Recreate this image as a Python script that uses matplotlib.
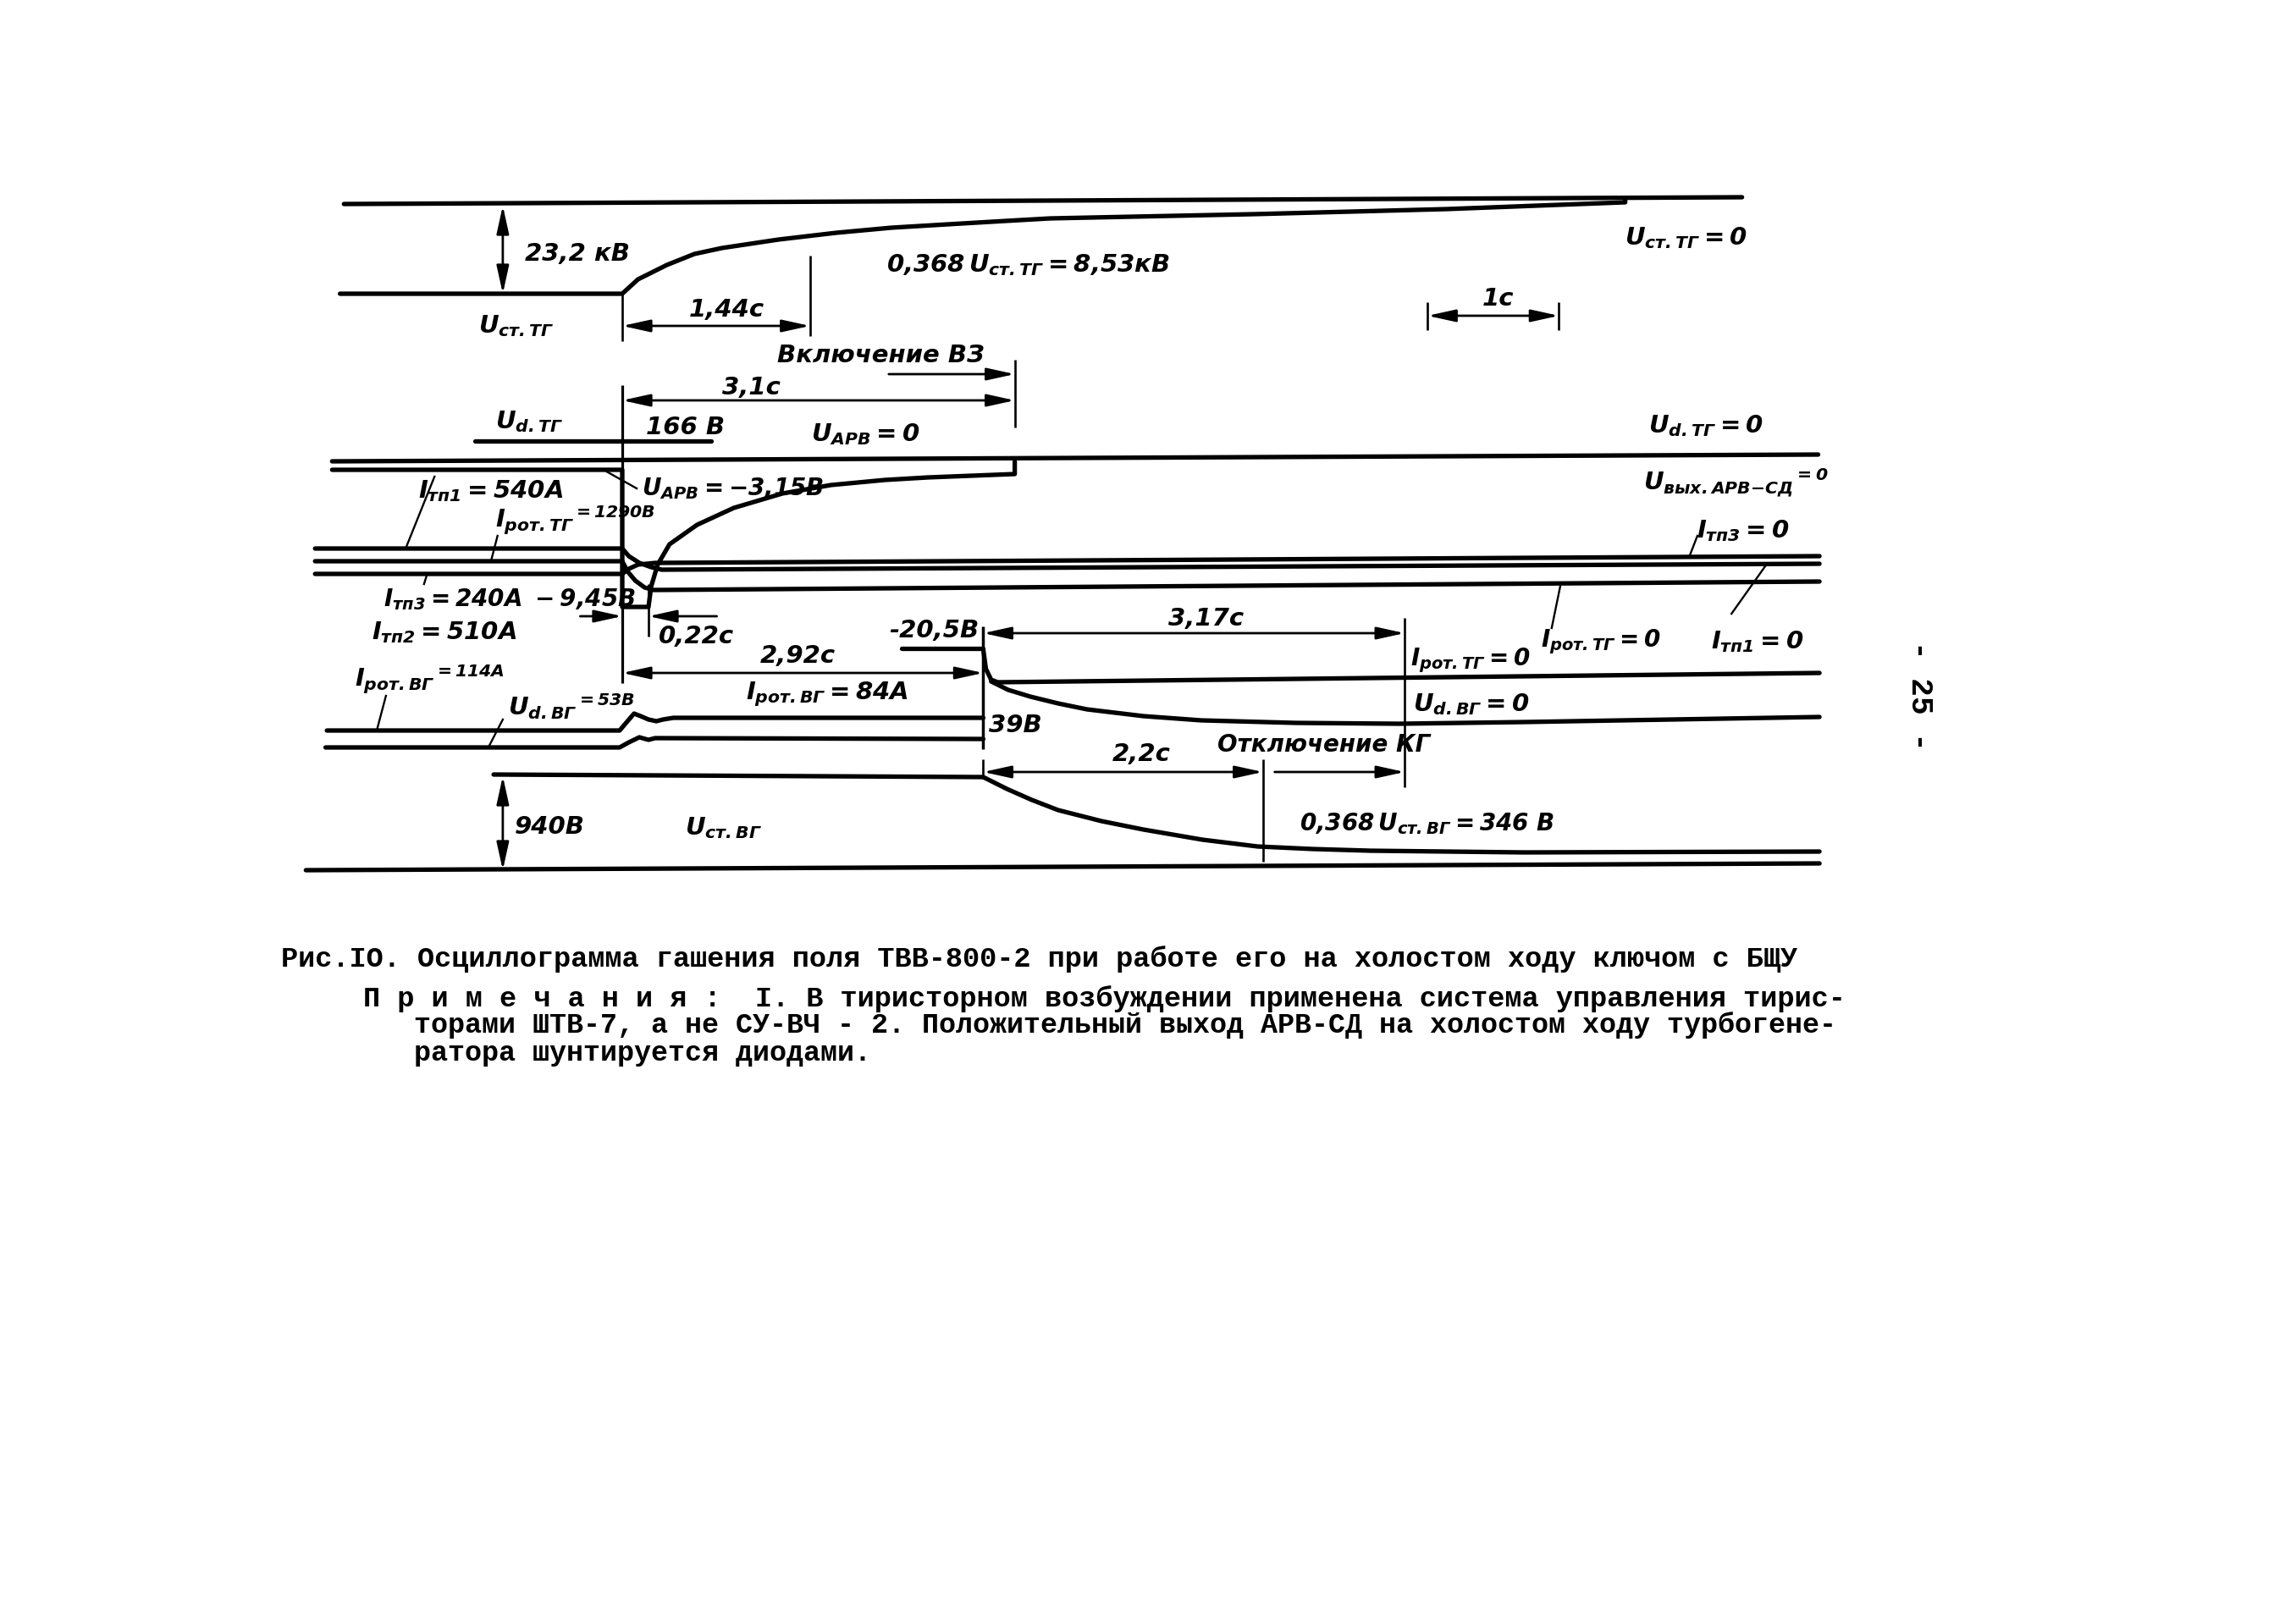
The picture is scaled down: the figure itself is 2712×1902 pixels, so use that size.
import numpy as np
import matplotlib.pyplot as plt

plt.rcParams['font.family'] = ['DejaVu Sans']
plt.rcParams['mathtext.fontset'] = 'custom'
plt.rcParams['mathtext.rm'] = 'DejaVu Sans:italic:bold'
plt.rcParams['mathtext.it'] = 'DejaVu Sans:italic:bold'
plt.rcParams['mathtext.bf'] = 'DejaVu Sans:italic:bold'

W, H = 2712, 1902

# time axis of the oscillogram, t = 0 at start of field suppression (seconds)
T_LEFT, T_RIGHT = -4.74, 12.75

# ---- stator voltage of turbogenerator (top block), levels in sheet rows
t_ust_tg_zero = [-2.12, 8.53]
y_ust_tg_zero = [241, 233]
t_ust_tg = [-2.15, 0.0, 0.12, 0.34, 0.55, 0.76, 1.19, 1.63, 2.05, 2.48, 2.92,
            3.26, 4.81, 6.28, 7.64, 7.64]
y_ust_tg = [347, 347, 330, 313, 300, 293, 283, 275, 269, 265, 261,
            258, 253, 247, 239, 234]

# ---- rotor voltage / regulator output
t_ud_tg_166 = [-1.12, 0.68]
y_ud_tg_166 = [521, 521]
t_ud_tg = [-2.21, 9.11]
y_ud_tg = [545, 537]
t_u_arv = [-2.21, 0.0, 0.0, 0.20, 0.22, 0.27, 0.36, 0.57, 0.85,
           1.22, 1.59, 2.0, 2.33, 2.99, 2.99]
y_u_arv = [555, 555, 717, 717, 693, 667, 643, 620, 600,
           583, 573, 567, 564, 560, 545]

# ---- thyristor and rotor currents of turbogenerator
t_i_tp1 = [-2.34, 0.0, 0.05, 0.13, 0.22, 0.3, 9.12]
y_i_tp1 = [648, 648, 657, 665, 670, 673, 666]
t_i_rot_tg = [-2.34, 0.0, 0.04, 0.1, 0.17, 0.24, 9.12]
y_i_rot_tg = [663, 663, 675, 686, 694, 697, 687]
t_i_tp3 = [-2.34, 0.0, 0.05, 0.12, 0.25, 9.12]
y_i_tp3 = [678, 678, 672, 667, 665, 657]

# ---- exciter (ВГ) rotor current and voltage
t_i_rot_vg = [-2.25, -0.02, 0.04, 0.09, 0.14, 0.20, 0.26, 0.31, 0.39, 2.75]
y_i_rot_vg = [863, 863, 852, 843, 846, 850, 852, 850, 848, 848]
t_ud_vg = [-2.26, -0.02, 0.05, 0.13, 0.20, 0.25, 2.75]
y_ud_vg = [883, 883, 877, 871, 874, 872, 873]
t_i_rot_vg_post = [2.75, 2.77, 2.81, 2.86, 9.12]
y_i_rot_vg_post = [767, 790, 803, 806, 795]
t_ud_vg_post = [2.81, 2.94, 3.11, 3.32, 3.54, 3.97, 4.41, 5.13, 5.92, 6.87, 9.12]
y_ud_vg_post = [805, 815, 823, 831, 838, 846, 851, 854, 855, 853, 847]
t_spike_205 = [2.13, 2.75]
y_spike_205 = [766, 766]

# ---- exciter stator voltage
t_ust_vg = [-0.98, 2.75, 2.93, 3.12, 3.32, 3.65, 3.97, 4.42, 4.84, 5.26,
            5.70, 6.87, 9.12]
y_ust_vg = [915, 918, 932, 945, 957, 970, 980, 992, 1000, 1003,
            1005, 1007, 1006]
t_ust_vg_zero = [-2.41, 9.12]
y_ust_vg_zero = [1028, 1020]

# ---- time marks (s)
t_arv_on = 2.99      # Включение ВЗ
t_min_arv = 0.20     # 0,22 c
t_spike = 2.75       # 2,92 c
t_kg_off = 5.96      # Отключение КГ
t_e_vg = 4.88        # 2,2 c
t_e_tg = 1.43        # 1,44 c
t_scale = [6.135, 7.135]   # 1 c

caption = [
    "Рис.IO. Осциллограмма гашения поля ТВВ-800-2 при работе его на холостом ходу ключом с БЩУ",
    "П р и м е ч а н и я :  I. В тиристорном возбуждении применена система управления тирис-",
    "торами ШТВ-7, а не СУ-ВЧ - 2. Положительный выход АРВ-СД на холостом ходу турбогене-",
    "ратора шунтируется диодами.",
]

fig = plt.figure(figsize=(W / 100, H / 100), dpi=100)
ax = fig.add_axes([0, 0, 1, 1])
ax.set_xlim(T_LEFT, T_RIGHT)
ax.set_ylim(H, 0)
ax.axis('off')

LW = 3.8


def trace(t, y, lw=LW):
    ax.plot(t, y, color='k', lw=lw, solid_capstyle='round', solid_joinstyle='round')


def vline(t, y0, y1, lw=1.9):
    ax.plot([t, t], [y0, y1], color='k', lw=lw, solid_capstyle='butt')


def arrow(t0, y0, t1, y1, style='<|-|>'):
    ax.annotate('', xy=(t1, y1), xytext=(t0, y0),
                arrowprops=dict(arrowstyle=style + ',head_length=1.0,head_width=0.22',
                                color='k', lw=2.0, mutation_scale=20,
                                shrinkA=0, shrinkB=0))


def label(x, y, s, size=21, ha='left', **kw):
    fig.text(x / W, 1 - y / H, s, ha=ha, va='center', size=size,
             style='italic', weight='bold', **kw)


for t, y in [(t_ust_tg_zero, y_ust_tg_zero), (t_ust_tg, y_ust_tg),
             (t_ud_tg_166, y_ud_tg_166), (t_ud_tg, y_ud_tg), (t_u_arv, y_u_arv),
             (t_i_tp1, y_i_tp1), (t_i_rot_tg, y_i_rot_tg), (t_i_tp3, y_i_tp3),
             (t_i_rot_vg, y_i_rot_vg), (t_ud_vg, y_ud_vg),
             (t_i_rot_vg_post, y_i_rot_vg_post), (t_ud_vg_post, y_ud_vg_post),
             (t_spike_205, y_spike_205),
             (t_ust_vg, y_ust_vg), (t_ust_vg_zero, y_ust_vg_zero)]:
    trace(t, y)

# vertical marks
vline(0.0, 347, 403)
vline(t_e_tg, 302, 397)
vline(0.0, 455, 807, lw=2.3)
vline(t_arv_on, 425, 505)
vline(t_min_arv, 690, 752)
vline(t_spike, 740, 885, lw=2.5)
vline(t_spike, 897, 920)
vline(t_kg_off, 730, 930)
vline(t_e_vg, 897, 1018)
for tt in t_scale:
    vline(tt, 357, 390)

# dimension arrows
arrow(-0.91, 243, -0.91, 347)
arrow(0.0, 385, t_e_tg, 385)
arrow(t_scale[0], 373, t_scale[1], 373)
arrow(0.0, 473, t_arv_on, 473)
arrow(2.03, 442, t_arv_on, 442, '-|>')
arrow(-0.32, 728, 0.0, 728, '-|>')
arrow(0.72, 728, t_min_arv, 728, '-|>')
arrow(0.0, 795, t_spike, 795)
arrow(t_spike, 748, t_kg_off, 748)
arrow(t_spike, 912, t_e_vg, 912)
arrow(4.97, 912, t_kg_off, 912, '-|>')
arrow(-0.91, 917, -0.91, 1028)

# leader lines
for (ta, ya, tb, yb) in [(-1.65, 648, -1.43, 563), (-1.00, 663, -0.95, 633),
                         (-1.49, 680, -1.51, 690), (-0.12, 557, 0.11, 577),
                         (-1.87, 863, -1.80, 822), (-1.02, 883, -0.91, 850),
                         (8.13, 657, 8.19, 633), (7.15, 689, 7.08, 742),
                         (8.72, 666, 8.45, 725)]:
    ax.plot([ta, tb], [ya, yb], color='k', lw=1.7)

# labels
label(620, 300, '23,2 кВ')
label(565, 385, r'$U_{ст.ТГ}$')
label(858, 366, '1,44с', ha='center')
label(1047, 313, r'$0{,}368\,U_{ст.ТГ}=8{,}53кВ$')
label(1919, 281, r'$U_{ст.ТГ}=0$')
label(1770, 353, '1с', ha='center')
label(918, 420, 'Включение ВЗ')
label(887, 458, '3,1с', ha='center')
label(585, 498, r'$U_{d.ТГ}$')
label(763, 505, '166 В')
label(958, 513, r'$U_{АРВ}=0$')
label(1947, 503, r'$U_{d.ТГ}=0$')
label(1941, 570, r'$U_{вых.АРВ{-}СД}{}^{=0}$')
label(758, 577, r'$U_{АРВ}=-3{,}15В$', size=20)
label(494, 580, r'$I_{тп1}=540А$')
label(585, 615, r'$I_{рот.ТГ}{}^{=1290В}$')
label(2004, 627, r'$I_{тп3}=0$')
label(453, 708, r'$I_{тп3}=240А\ -9{,}45В$', size=20)
label(439, 747, r'$I_{тп2}=510А$')
label(778, 752, '0,22с')
label(1050, 745, '-20,5В')
label(942, 775, '2,92с', ha='center')
label(1425, 731, '3,17с', ha='center')
label(1666, 780, r'$I_{рот.ТГ}=0$', size=20)
label(1820, 758, r'$I_{рот.ТГ}=0$', size=20)
label(2021, 758, r'$I_{тп1}=0$')
label(419, 803, r'$I_{рот.ВГ}{}^{=114А}$')
label(881, 820, r'$I_{рот.ВГ}=84А$')
label(600, 835, r'$U_{d.ВГ}{}^{=53В}$')
label(1669, 832, r'$U_{d.ВГ}=0$')
label(1168, 857, '39В')
label(1348, 891, '2,2с', ha='center')
label(1438, 880, 'Отключение КГ', size=20)
label(608, 977, '940В')
label(809, 978, r'$U_{ст.ВГ}$')
label(1535, 973, r'$0{,}368\,U_{ст.ВГ}=346\ В$', size=20)

# page number
fig.text(2267 / W, 1 - 822 / H, '- 25 -', rotation=-90, ha='center', va='center',
         size=26, family=['Liberation Mono', 'DejaVu Sans Mono'], weight='bold')

# caption, each line stretched to its width on the sheet
cap_pos = [(332, 1133, 2131), (429, 1180, 2188), (489, 1211, 2171), (489, 1245, None)]
fs_prev = 24
for (x0, y0, x1), s in zip(cap_pos, caption):
    fs = fs_prev if x1 is None else (x1 - x0) / (len(s) * 0.6) * 0.72
    fs_prev = fs
    fig.text(x0 / W, 1 - y0 / H, s, ha='left', va='center', size=fs,
             family=['Liberation Mono', 'DejaVu Sans Mono'], weight='bold')

fig.savefig('out.png', dpi=100, facecolor='white')
